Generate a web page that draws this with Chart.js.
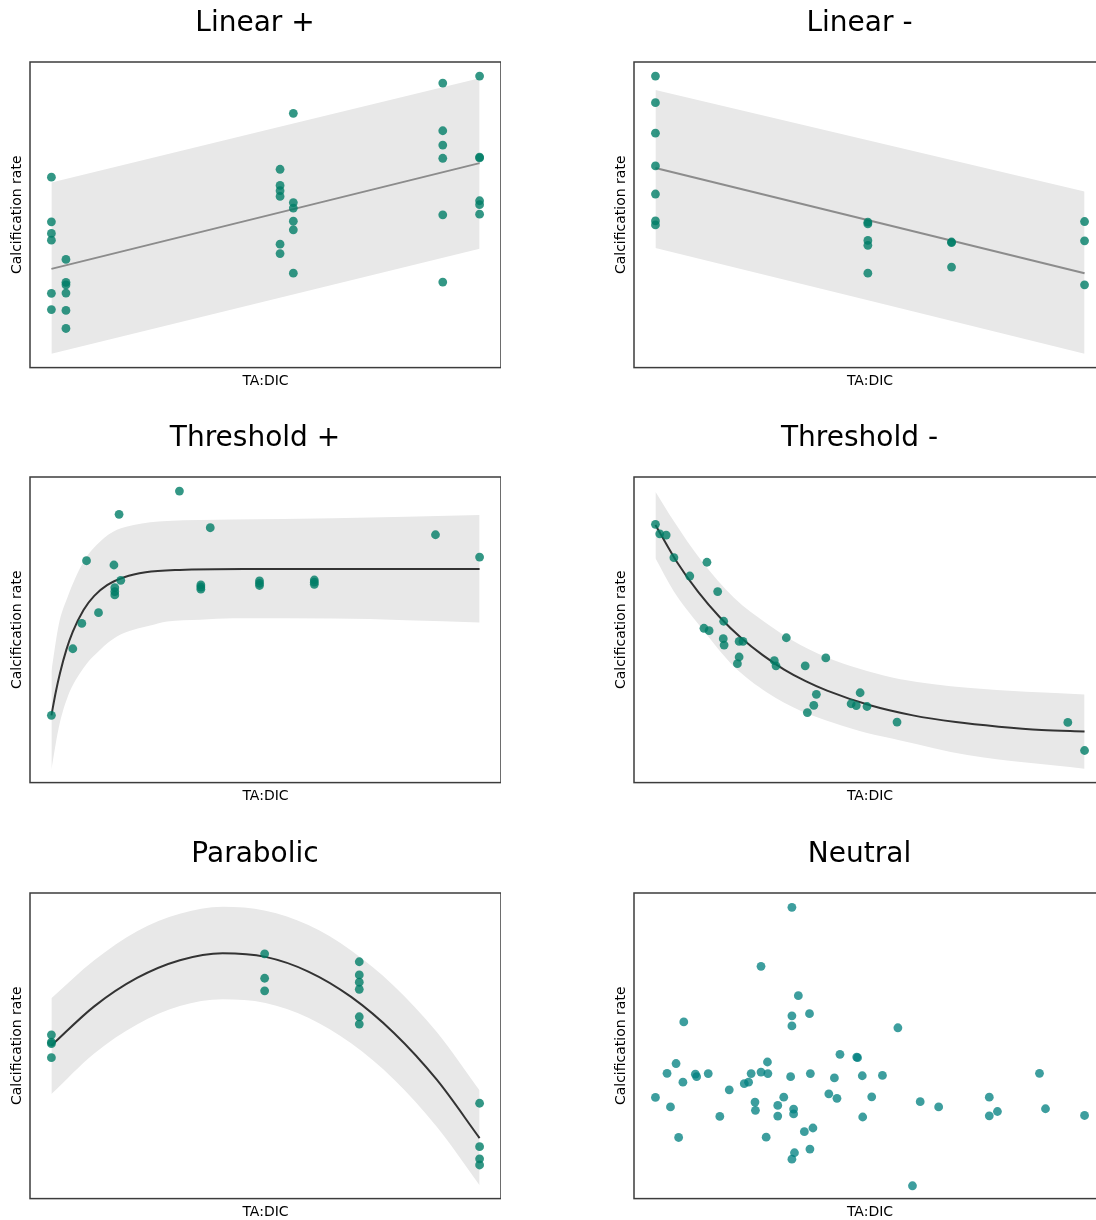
<!DOCTYPE html>
<html>
<head>
<meta charset="utf-8">
<script src="https://cdn.jsdelivr.net/npm/chart.js@4.4.1/dist/chart.umd.min.js"></script>
<style>
  html, body { margin: 0; padding: 0; background: #fff; overflow: hidden; }
  body { width: 1096px; height: 1220px; position: relative; }
  canvas { position: absolute; }
</style>
</head>
<body>
<canvas id="linPos" width="492" height="393" style="left:9px;top:0px"></canvas>
<canvas id="linNeg" width="493" height="393" style="left:613px;top:0px"></canvas>
<canvas id="thrPos" width="492" height="393" style="left:9px;top:415px"></canvas>
<canvas id="thrNeg" width="493" height="393" style="left:613px;top:415px"></canvas>
<canvas id="para" width="492" height="393" style="left:9px;top:831px"></canvas>
<canvas id="neutral" width="493" height="393" style="left:613px;top:831px"></canvas>
<script>
// x = TA:DIC, y = calcification rate (relative units)

// Linear +
var linPosX = [0,0,0,0,0,0, 0.34,0.34,0.34,0.34,0.34,0.34, 5.34,5.34,5.34,5.34,5.34,5.34,
  5.65,5.65,5.65,5.65,5.65,5.65, 9.14,9.14,9.14,9.14,9.14,9.14, 10,10,10,10,10,10];
var linPosY = [6.23,4.77,4.39,4.17,2.43,1.90, 3.54,2.79,2.71,2.44,1.87,1.28, 6.49,5.96,5.79,5.60,4.04,3.73,
  8.32,5.40,5.22,4.79,4.51,3.09, 9.31,7.75,7.28,6.85,5.00,2.80, 9.54,6.89,6.86,5.46,5.33,5.02];
var linPosFitX = [0, 10];
var linPosFitY = [3.23, 6.69];
var linPosHi = [6.06, 9.47];
var linPosLo = [0.45, 3.89];

// Linear -
var linNegX = [0,0,0,0,0,0,0, 4.95,4.95,4.95,4.95,4.95, 6.90,6.90,6.90, 10,10,10];
var linNegY = [9.54,8.67,7.67,6.60,5.68,4.80,4.67, 4.76,4.70,4.16,4.00,3.09, 4.11,4.09,3.29, 4.78,4.15,2.71];
var linNegFitX = [0, 10];
var linNegFitY = [6.53, 3.09];
var linNegHi = [9.08, 5.76];
var linNegLo = [3.91, 0.45];

// Threshold +
var thrPosX = [0,0.50,0.71,0.82,1.10,1.46,1.48,1.48,1.48,1.62,1.58,2.99,3.71,3.49,3.49,3.49,
  4.86,4.86,4.86,6.14,6.14,6.14,8.97,10];
var thrPosY = [2.20,4.38,5.21,7.26,5.56,7.12,6.38,6.25,6.14,6.62,8.78,9.54,8.34,6.47,6.40,6.33,
  6.60,6.52,6.45,6.63,6.56,6.49,8.11,7.38];
var thrPosFitX = [0,0.1,0.2,0.35,0.5,0.75,1,1.3,1.7,2.2,3,4.5,10];
var thrPosFitY = [2.20,2.95,3.58,4.35,4.94,5.65,6.11,6.46,6.72,6.88,6.96,6.99,6.99];
var thrPosBandX = [0,0.17,0.37,0.75,1.14,1.53,1.92,2.31,2.70,3.47,4.25,6.58,10];
var thrPosHi = [3.64,5.16,6.04,7.23,7.89,8.27,8.43,8.52,8.56,8.59,8.61,8.65,8.76];
var thrPosLo = [0.42,1.79,2.77,3.75,4.35,4.78,5.00,5.14,5.27,5.33,5.38,5.37,5.24];

// Threshold -
var thrNegX = [0,0.10,0.25,0.43,0.80,1.20,1.45,1.59,1.13,1.25,1.58,1.60,1.95,2.04,1.95,1.91,
  2.77,2.81,3.05,3.49,3.97,3.75,3.69,3.54,4.56,4.68,4.77,4.93,5.63,9.61,10];
var thrNegY = [8.45,8.14,8.10,7.36,6.76,7.21,6.25,5.28,5.05,4.97,4.71,4.50,4.62,4.62,4.11,3.89,
  3.99,3.82,4.74,3.82,4.08,2.89,2.53,2.29,2.58,2.52,2.94,2.49,1.98,1.97,1.05];
var thrNegFitX = [0,0.5,1,1.5,2,2.5,3,3.5,4,5,6,7,8,9,10];
var thrNegFitY = [8.43,7.22,6.23,5.41,4.73,4.17,3.70,3.32,3.01,2.53,2.20,1.98,1.83,1.72,1.67];
var thrNegBandX = [0,0.43,1.05,1.83,2.60,3.38,4.16,4.93,5.71,7.27,10];
var thrNegHi = [9.52,8.55,7.30,6.05,5.20,4.50,4.00,3.65,3.38,3.10,2.88];
var thrNegLo = [7.34,6.25,5.10,3.80,2.95,2.35,1.95,1.62,1.38,0.90,0.45];

// Parabolic
var paraX = [0,0,0,0, 4.98,4.98,4.98, 7.19,7.19,7.19,7.19,7.19,7.19, 10,10,10,10];
var paraY = [5.36,5.12,5.07,4.61, 8.01,7.21,6.80, 7.75,7.32,7.08,6.85,5.95,5.71, 3.12,1.70,1.30,1.10];
var paraFitX = [0,1,2,3,4,5,6,7,8,9,10];
var paraFitY = [5.01,6.29,7.22,7.80,8.03,7.91,7.43,6.60,5.42,3.89,1.98];
var paraHi = [6.56,7.80,8.75,9.32,9.55,9.42,8.95,8.12,6.96,5.45,3.54];
var paraLo = [3.42,4.75,5.70,6.30,6.52,6.40,5.92,5.08,3.90,2.35,0.44];

// Neutral
var neutX = [3.18,2.46,3.33,3.18,3.59,3.18,0.66,5.65,4.30,4.69,4.71,0.48,2.61,0.27,0.64,0.93,
  0.96,1.23,2.23,2.46,2.62,2.17,2.07,3.15,3.61,4.17,4.82,5.29,8.95,0,0.35,1.72,2.32,2.33,2.99,
  2.85,2.85,3.22,3.22,4.04,4.23,5.04,6.17,6.60,7.78,7.78,7.97,9.09,10,1.50,4.83,0.54,2.58,3.47,
  3.67,3.24,3.60,3.18,5.99];
var neutY = [9.53,7.60,6.64,5.98,6.05,5.65,5.78,5.59,4.72,4.63,4.61,4.42,4.47,4.10,3.81,4.07,
  3.99,4.09,4.09,4.14,4.09,3.81,3.76,3.99,4.09,3.95,4.02,4.03,4.10,3.31,3.00,3.56,3.16,2.89,3.32,
  3.05,2.70,2.93,2.77,3.43,3.28,3.33,3.17,3.00,3.32,2.71,2.85,2.94,2.72,2.69,2.67,2.00,2.01,2.19,
  2.31,1.50,1.62,1.29,0.42];

Chart.defaults.font.family = "'DejaVu Sans', sans-serif";
Chart.defaults.color = '#000';

var bandColor = 'rgb(232,232,232)';

function pts(xs, ys) {
  return xs.map(function(x, i) { return {x: x, y: ys[i]}; });
}

// axes box like matplotlib spines
var framePlugin = {
  id: 'frame',
  afterDraw: function(chart) {
    var a = chart.chartArea, ctx = chart.ctx;
    ctx.save();
    ctx.strokeStyle = '#3c3c3c';
    ctx.lineWidth = 1.5;
    ctx.strokeRect(a.left, a.top, a.right - a.left, a.bottom - a.top);
    ctx.restore();
  }
};

function makePanel(id, title, points, dotColor, fit, fitColor, hi, lo) {
  var datasets = [{
    type: 'scatter',
    data: points,
    backgroundColor: dotColor,
    pointRadius: 4.4,
    pointBorderWidth: 0
  }];
  if (fit) {
    datasets.push({
      type: 'line', data: fit, borderColor: fitColor, borderWidth: 2,
      pointRadius: 0, fill: false, cubicInterpolationMode: 'monotone'
    });
    datasets.push({
      type: 'line', data: hi, borderColor: 'rgba(0,0,0,0)', backgroundColor: bandColor,
      pointRadius: 0, fill: '+1', cubicInterpolationMode: 'monotone'
    });
    datasets.push({
      type: 'line', data: lo, borderColor: 'rgba(0,0,0,0)',
      pointRadius: 0, fill: false, cubicInterpolationMode: 'monotone'
    });
  }
  return new Chart(document.getElementById(id).getContext('2d'), {
    type: 'scatter',
    data: {datasets: datasets},
    plugins: [framePlugin],
    options: {
      responsive: false,
      animation: false,
      events: [],
      layout: {padding: 0, autoPadding: false},
      plugins: {
        legend: {display: false},
        tooltip: {enabled: false},
        title: {
          display: true, text: title,
          font: {size: 28, weight: 'normal'},
          padding: {top: 6.6, bottom: 21.8}
        }
      },
      scales: {
        x: {
          type: 'linear', min: -0.5, max: 10.5,
          grid: {display: false, drawTicks: false},
          border: {display: false},
          ticks: {display: false},
          title: {display: true, text: 'TA:DIC', font: {size: 14}, padding: {top: 5.6, bottom: 3}}
        },
        y: {
          type: 'linear', min: 0, max: 10,
          grid: {display: false, drawTicks: false},
          border: {display: false},
          ticks: {display: false},
          title: {display: true, text: 'Calcification rate', font: {size: 14}, padding: {top: 0, bottom: 4.2}}
        }
      }
    }
  });
}

var green = 'rgba(0,125,102,0.8)';
var teal = 'rgba(0,128,128,0.76)';

makePanel('linPos', 'Linear +', pts(linPosX, linPosY), green,
  pts(linPosFitX, linPosFitY), 'rgb(140,140,140)', pts(linPosFitX, linPosHi), pts(linPosFitX, linPosLo));
makePanel('linNeg', 'Linear -', pts(linNegX, linNegY), green,
  pts(linNegFitX, linNegFitY), 'rgb(140,140,140)', pts(linNegFitX, linNegHi), pts(linNegFitX, linNegLo));
makePanel('thrPos', 'Threshold +', pts(thrPosX, thrPosY), green,
  pts(thrPosFitX, thrPosFitY), '#333', pts(thrPosBandX, thrPosHi), pts(thrPosBandX, thrPosLo));
makePanel('thrNeg', 'Threshold -', pts(thrNegX, thrNegY), green,
  pts(thrNegFitX, thrNegFitY), '#333', pts(thrNegBandX, thrNegHi), pts(thrNegBandX, thrNegLo));
makePanel('para', 'Parabolic', pts(paraX, paraY), green,
  pts(paraFitX, paraFitY), '#333', pts(paraFitX, paraHi), pts(paraFitX, paraLo));
makePanel('neutral', 'Neutral', pts(neutX, neutY), teal);
</script>
</body>
</html>
